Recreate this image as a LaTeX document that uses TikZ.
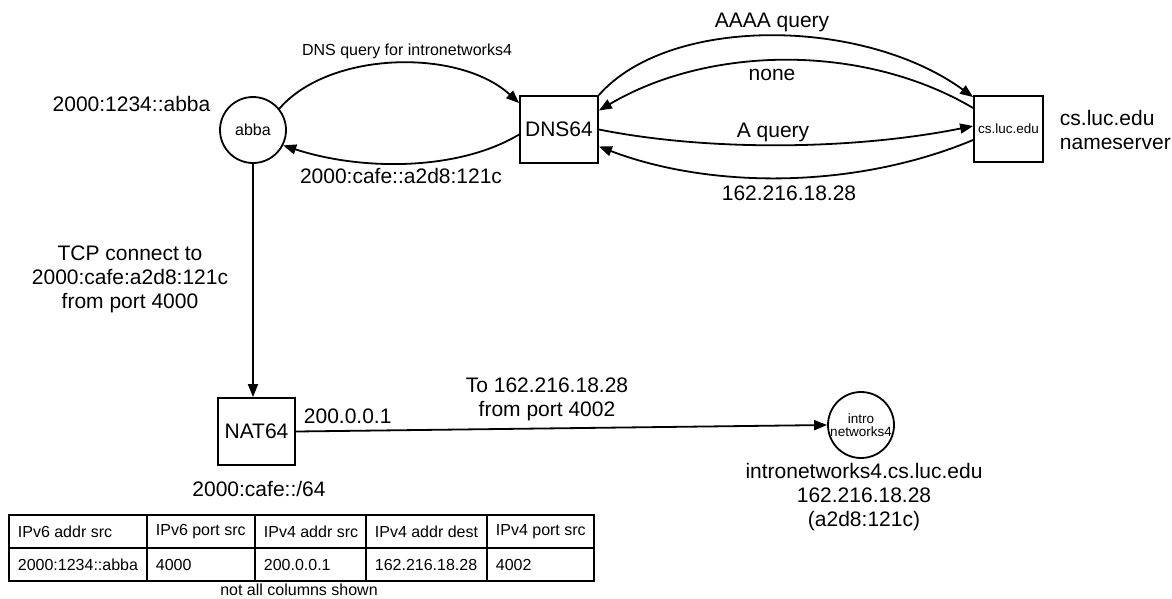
\documentclass[tikz,border=0pt]{standalone}
\usepackage{fontspec}
\setmainfont{Liberation Sans}
\usetikzlibrary{arrows.meta,calc}
\newcommand\bigtxt{\fontsize{21}{24}\selectfont}
\newcommand\midtxt{\fontsize{16}{19}\selectfont}
\newcommand\smtxt{\fontsize{13.5}{15}\selectfont}
\tikzset{
  every path/.style={line width=1.8pt},
  arr/.style={-{Triangle[length=13pt,width=10pt]}},
  hostc/.style={circle,draw,minimum size=66pt,inner sep=0pt},
  boxn/.style={rectangle,draw,inner sep=0pt},
  lbl/.style={inner sep=0pt,font=\bigtxt,align=center},
  slbl/.style={inner sep=0pt,font=\midtxt,align=center},
  cell/.style={inner sep=0pt,anchor=west,font=\midtxt},
}
\begin{document}
\begin{tikzpicture}[x=1pt,y=-1pt]
\useasboundingbox (0,0) rectangle (1172,598);
% nodes
\node[hostc,font=\midtxt] (abba) at (253,130) {abba};
\node[boxn,minimum width=78pt,minimum height=67pt,font=\bigtxt] (dns) at (559,129.5) {DNS64};
\node[boxn,minimum width=69pt,minimum height=66pt,font=\smtxt] (cs) at (1008.5,129) {cs.luc.edu};
\node[boxn,minimum width=77pt,minimum height=67pt,font=\bigtxt] (nat) at (256.5,431.5) {NAT64};
\node[hostc,font=\smtxt,align=center] (intro) at (861,425) {intro\\[-2pt]networks4};
% labels
\node[lbl] (labba) at (131.5,104) {2000:1234::abba};
\node[lbl,align=left,anchor=west] (lcs) at (1059,130) {cs.luc.edu\\nameserver};
\node[lbl] (ltcp) at (130,279) {TCP connect to\\2000:cafe:a2d8:121c\\from port 4000};
\node[slbl] (lq) at (407,51) {DNS query for intronetworks4};
\node[lbl] (lret) at (401,176) {2000:cafe::a2d8:121c};
\node[lbl] (laaaa) at (772,22) {AAAA query};
\node[lbl] (lnone) at (772,75) {none};
\node[lbl] (la) at (773,132) {A query};
\node[lbl] (lip) at (789,193) {162.216.18.28};
\node[lbl,anchor=west] (lnat) at (303,416) {200.0.0.1};
\node[lbl] (lto) at (547,399.5) {To 162.216.18.28\\from port 4002};
\node[lbl] (lpre) at (259,489) {2000:cafe::/64};
\node[lbl] (lintro) at (864,497.5) {intronetworks4.cs.luc.edu\\162.216.18.28\\(a2d8:121c)};
% connectors
\draw[arr] (abba.39) .. controls +(50,-58) and +(-60,-55) .. ($(dns.north west)+(0,8)$);
\draw[arr] ($(dns.west)+(0,5)$) .. controls +(-60,36) and +(80,26) .. (abba.-27);
\draw[arr] (dns.north east) .. controls +(70,-80) and +(-110,-80) .. ($(cs.north west)+(0,2)$);
\draw[arr] ($(cs.west)+(0,-21)$) .. controls +(-110,-65) and +(110,-65) .. ($(dns.east)+(0,-19)$);
\draw[arr] (dns.east) .. controls +(110,22) and +(-120,24) .. ($(cs.west)+(0,-3)$);
\draw[arr] ($(cs.west)+(0,11)$) .. controls +(-120,50) and +(110,42) .. ($(dns.east)+(0,17)$);
\draw[arr] (abba.south) -- (abba.south |- nat.north);
\draw[arr] (nat.east) -- (intro.west);
% table
\draw (9,515) rectangle (594,581);
\draw (9,548) -- (594,548);
\foreach \x in {147,255,366,487} \draw (\x,515) -- (\x,581);
\node[cell] (h1) at (17,532) {IPv6 addr src};
\node[cell] (h2) at (155,532) {IPv6 port src};
\node[cell] (h3) at (263,532) {IPv4 addr src};
\node[cell] (h4) at (374,532) {IPv4 addr dest};
\node[cell] (h5) at (495,532) {IPv4 port src};
\node[cell] (d1) at (17,565) {2000:1234::abba};
\node[cell] (d2) at (155,565) {4000};
\node[cell] (d3) at (263,565) {200.0.0.1};
\node[cell] (d4) at (374,565) {162.216.18.28};
\node[cell] (d5) at (495,565) {4002};
\node[slbl] (lcols) at (299,589.5) {not all columns shown};
\end{tikzpicture}
\end{document}
